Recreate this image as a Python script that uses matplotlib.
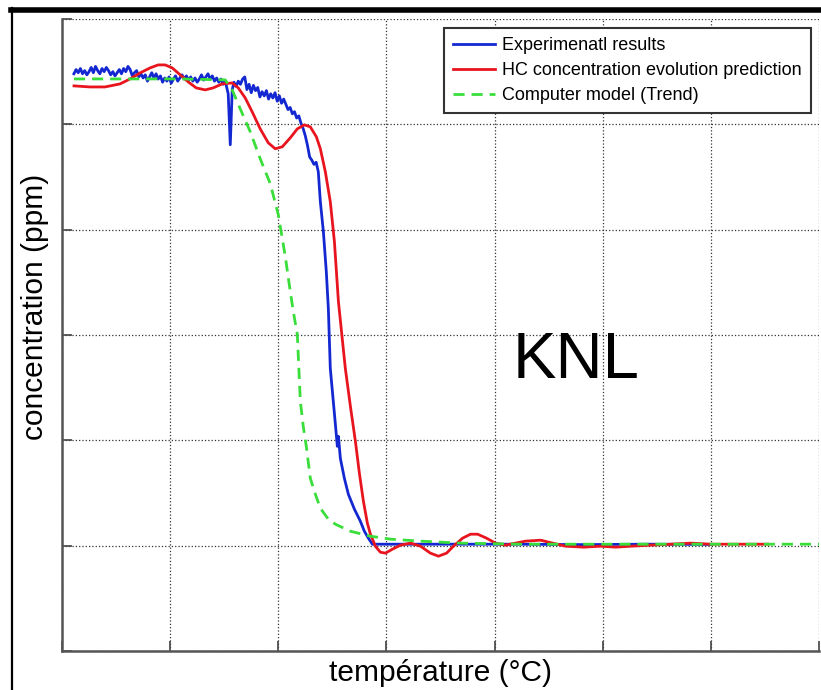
import matplotlib
matplotlib.use("Agg")
import matplotlib.pyplot as plt
from matplotlib.lines import Line2D

# ---- data (axis units: x 0..700, y 0..600) ----
exp_x = [11, 13, 15, 17, 19, 21, 23, 25, 27, 29, 31, 33, 35, 37, 39, 41, 43, 45,
         47, 49, 51, 53, 55, 57, 59, 61, 63, 65, 67, 69, 71, 73, 75, 77, 79, 81,
         83, 85, 87, 89, 91, 93, 95, 97, 99, 101, 103, 105, 107, 109, 111, 113,
         115, 117, 119, 121, 123, 125, 127, 129, 131, 133, 135, 137, 139, 141,
         143, 145, 147, 149, 151, 153.7, 155.6, 157.4, 159, 161, 163, 165, 167,
         169, 171, 173, 175, 177, 179, 181, 183, 185, 187, 189, 191, 193, 195,
         197, 199, 201, 203, 205, 207, 209, 211, 213, 215, 217, 219, 221, 223,
         225, 227, 229, 231, 233, 235, 237, 238.9, 241.7, 244.4, 246.3, 248.1,
         250.9, 252.8, 254.6, 255.6, 257.4, 261.1, 264.8, 270.4, 275.9, 279.6,
         283.3, 287.0, 294.4, 350.0, 420.0, 480.0, 540.0, 600.0]
exp_y = [548, 552, 549, 553, 548, 551, 547, 550, 554, 549, 555, 551, 548, 553,
         550, 554, 551, 547, 550, 546, 549, 552, 548, 553, 550, 555, 552, 546,
         549, 551, 545, 548, 544, 547, 541, 545, 549, 544, 548, 543, 546, 540,
         544, 541, 545, 539, 543, 546, 541, 544, 547, 543, 546, 542, 545, 541,
         544, 540, 543, 547, 542, 545, 548, 543, 546, 541, 544, 540, 543, 538,
         541, 528.9, 480.6, 532.7, 540, 536, 541, 538, 543, 545, 533, 538, 530,
         537, 532, 535, 526, 531, 527, 532, 524, 529, 525, 530, 522, 527, 520,
         524, 519, 514, 516, 510, 512, 506, 508, 501, 496, 489, 480, 469, 466,
         462, 464, 455, 426.5, 398.1, 360.2, 325.1, 268.2, 237.0, 215.2, 194.3,
         203.8, 182.9, 164.0, 148.8, 134.6, 123.2, 113.7, 107.1, 101.4, 101.4,
         101.4, 101.4, 101.0, 101.4, 101.2]

hc_x = [11.1, 25.9, 39.8, 53.7, 63.0, 72.2, 81.5, 88.9, 95.4, 101.9, 109.3,
        116.7, 124.1, 132.4, 139.8, 148.1, 157.4, 163.0, 169.4, 175.9, 183.3,
        190.7, 197.2, 203.7, 211.1, 217.6, 224.1, 229.6, 235.2, 238.9, 243.5,
        248.1, 251.9, 255.6, 262.0, 266.7, 271.3, 275.0, 278.7, 282.4, 285.2,
        289.8, 294.4, 299.1, 305.6, 313.0, 322.2, 331.5, 340.7, 348.1, 355.6,
        362.0, 370.4, 377.8, 384.3, 392.6, 400.9, 410.2, 419.4, 428.7, 442.6,
        453.7, 465.7, 482.4, 498.1, 512.0, 525.9, 544.4, 563.0, 581.5, 600.0,
        618.5, 637.0, 652.8]
hc_y = [536.5, 535.5, 535.5, 538.4, 543.1, 548.8, 553.6, 556.4, 556.4, 553.6,
        547.0, 540.3, 534.6, 532.7, 534.6, 538.4, 539.3, 534.6, 525.1, 511.8,
        495.7, 482.5, 476.8, 478.7, 487.2, 495.7, 499.5, 497.6, 488.2, 476.8,
        455.0, 426.5, 388.6, 331.8, 268.2, 232.2, 199.1, 168.7, 142.2, 121.3,
        110.9, 99.5, 93.8, 92.9, 96.7, 100.5, 102.4, 99.5, 92.9, 90.0, 92.9,
        99.5, 107.1, 110.9, 110.9, 107.1, 102.4, 100.5, 102.4, 104.3, 105.2,
        102.4, 99.5, 98.6, 99.5, 98.6, 99.5, 100.5, 101.4, 102.4, 101.4, 101.4,
        101.4, 101.4]

model_x = [11.1, 53.7, 109.3, 150.9, 157.4, 164.8, 174.1, 183.3, 192.6, 200.0,
           206.5, 211.1, 213.9, 217.6, 220.4, 223.1, 225.9, 229.6, 234.3, 238.9,
           246.3, 252.8, 266.7, 285.2, 303.7, 331.5, 368.5, 424.1, 700.0]
model_y = [543.1, 543.1, 543.1, 542.2, 532.7, 514.7, 492.9, 467.3, 443.6, 414.2,
           374.4, 341.2, 322.3, 300.5, 237.0, 213.3, 194.3, 164.0, 148.8, 135.5,
           125.1, 120.4, 113.7, 109.0, 106.2, 104.3, 102.4, 101.4, 101.4]

labels = ["Experimenatl results",
          "HC concentration evolution prediction",
          "Computer model (Trend)"]

W, H = 821, 690
fig = plt.figure(figsize=(W / 100, H / 100), dpi=100)
ax = fig.add_axes([62 / W, 1 - 651 / H, 757 / W, 632 / H])

ax.plot(exp_x, exp_y, color="#1428d2", lw=2.0, label=labels[0], zorder=3)
ax.plot(hc_x, hc_y, color="#e8141e", lw=2.0, label=labels[1], zorder=4)
ax.plot(model_x, model_y, color="#3ade3a", lw=2.0, ls=(0, (4, 2.5)),
        label=labels[2], zorder=5)

ax.set_xlim(0, 700)
ax.set_ylim(0, 600)
ax.set_xticks(range(0, 701, 100))
ax.set_yticks(range(0, 601, 100))
ax.tick_params(direction="in", length=7, width=1.2, color="#444444",
               labelbottom=False, labelleft=False)
ax.grid(True, ls=":", color="#333333", lw=0.9)
for side in ("top", "right"):
    ax.spines[side].set_visible(False)
for side in ("left", "bottom"):
    ax.spines[side].set_color("#555555")
    ax.spines[side].set_linewidth(1.8)

font = ["Liberation Sans", "DejaVu Sans"]
ax.set_xlabel("température (°C)", fontsize=21.5, family=font)
ax.xaxis.set_label_coords(0.5, -0.012, transform=ax.transAxes)
ax.xaxis.label.set_va("top")
ax.set_ylabel("concentration (ppm)", fontsize=21.5, family=font)
ax.yaxis.set_label_coords(-0.017, 0.544)

ax.text(475, 275, "KNL", fontsize=47, family=font, ha="center", va="center")

leg = ax.legend(loc="upper right", bbox_to_anchor=(0.989, 0.986),
                borderaxespad=0, fancybox=False, framealpha=1,
                edgecolor="#333333", handlelength=2.3, handletextpad=0.4,
                labelspacing=0.45, borderpad=0.5,
                prop={"family": font, "size": 13})
leg.get_frame().set_linewidth(1.5)

# black screenshot border (top band and left edge)
fig.add_artist(Line2D([11 / W, 1], [1 - 9.5 / H, 1 - 9.5 / H],
                      transform=fig.transFigure, color="black", lw=4))
fig.add_artist(Line2D([12 / W, 12 / W], [0, 1 - 8 / H],
                      transform=fig.transFigure, color="black", lw=1.6))

fig.savefig("out.png", dpi=100, facecolor="white")
